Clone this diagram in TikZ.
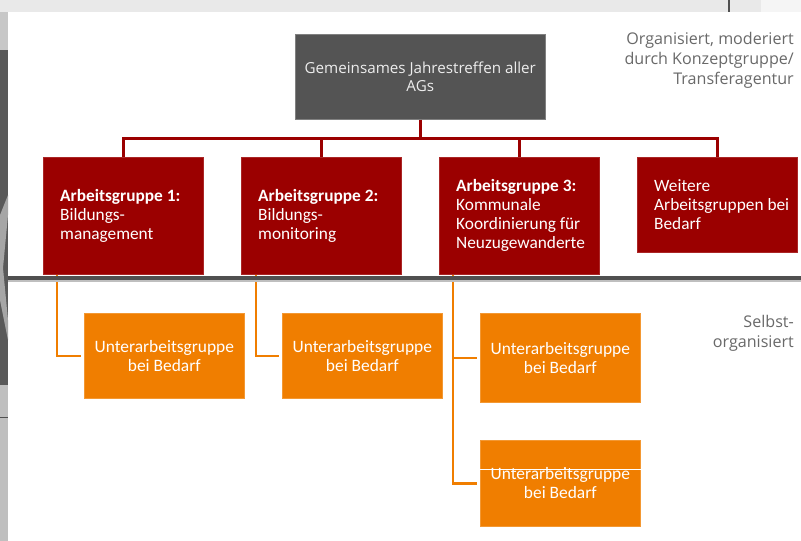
\documentclass[tikz,border=0pt]{standalone}
\usepackage{fontspec}
\setmainfont{Carlito}
\newfontfamily\opensans{Open Sans}
\usetikzlibrary{arrows.meta}
\definecolor{agred}{RGB}{155,0,0}
\definecolor{suborange}{RGB}{240,126,0}
\definecolor{boxgray}{RGB}{84,84,84}
\definecolor{notegray}{RGB}{105,105,105}
\definecolor{stripgray}{RGB}{233,233,233}
\definecolor{sepgray}{RGB}{80,80,80}
\begin{document}
\begin{tikzpicture}[x=1pt,y=-1pt,
  agbox/.style={fill=agred, draw=agred!85!white, line width=0.6pt, minimum width=160pt, minimum height=117pt, anchor=north west, inner sep=0pt},
  agtext/.style={anchor=west, align=left, inner sep=0pt, text=white, font=\fontsize{17.3}{19}\selectfont},
  subbox/.style={fill=suborange, draw=suborange!80!white, line width=0.6pt, minimum width=160pt, anchor=north west, inner sep=0pt, align=center, text=white, font=\fontsize{17.4}{19}\selectfont},
  topbox/.style={fill=boxgray, draw=gray, line width=0.6pt, minimum width=250pt, minimum height=85pt, anchor=north west, inner sep=0pt, align=center, text=white!93!black, font=\opensans\fontsize{15.2}{18}\selectfont},
  notetext/.style={anchor=north east, align=right, inner sep=0pt, text=notegray, font=\opensans\fontsize{16.1}{20}\selectfont},
  redline/.style={draw=agred, line width=3pt},
  orangeline/.style={draw=suborange, line width=2.4pt, shorten >=3pt}
]
\useasboundingbox (0,0) rectangle (801,541);
% background
\fill[white] (0,0) rectangle (801,541);
\fill[stripgray] (0,0) rectangle (761,12);
\fill[white!96!black] (761,0) rectangle (801,12);
\draw[sepgray, line width=1.5pt] (729,0) -- (729,12);
\fill[white!78!black] (0,12) rectangle (8,50);
\fill[white!35!black] (0,50) rectangle (8,385);
\fill[white!65!black] (0,215) -- (8,195) -- (8,215) -- (3,268) -- (8,320) -- (8,340) -- (0,300) -- cycle;
\fill[white!75!black] (0,385) rectangle (8,541);
\draw[sepgray, line width=1pt] (0,417) -- (8,417);

% top box
\node[topbox] (top) at (295,34) {Gemeinsames Jahrestreffen aller\\AGs};

% working groups
\node[agbox] (ag1) at (43,157) {};
\node[agbox] (ag2) at (241,157) {};
\node[agbox] (ag3) at (439,157) {};
\node[agbox, minimum height=95pt] (ag4) at (637,157) {};
\node[agtext] (t1) at ([xshift=17pt]ag1.west) {\textbf{Arbeitsgruppe 1:}\\Bildungs-\\management};
\node[agtext] (t2) at ([xshift=17pt]ag2.west) {\textbf{Arbeitsgruppe 2:}\\Bildungs-\\monitoring};
\node[agtext] (t3) at ([xshift=17pt]ag3.west) {\textbf{Arbeitsgruppe 3:}\\Kommunale\\Koordinierung für\\Neuzugewanderte};
\node[agtext] (t4) at ([xshift=17pt]ag4.west) {Weitere\\Arbeitsgruppen bei\\Bedarf};

% red connectors
\coordinate (bus) at (420,138.5);
\draw[redline] (top.south) -- (top.south |- bus);
\draw[redline] (ag1.north) -- (ag1.north |- bus) -- (ag4.north |- bus) -- (ag4.north);
\draw[redline] (ag2.north) -- (ag2.north |- bus);
\draw[redline] (ag3.north) -- (ag3.north |- bus);

% sub groups
\node[subbox, minimum height=85pt] (s1) at (84,313) {Unterarbeitsgruppe\\bei Bedarf};
\node[subbox, minimum height=85pt] (s2) at (282,313) {Unterarbeitsgruppe\\bei Bedarf};
\node[subbox, minimum height=89pt] (s3) at (480,313) {Unterarbeitsgruppe\\bei Bedarf};
\node[subbox, minimum height=86pt] (s4) at (480,440) {Unterarbeitsgruppe\\bei Bedarf};
\draw[white, line width=0.8pt] ([yshift=-29pt]s4.north west) -- ([yshift=-29pt]s4.north east);

% orange connectors
\draw[orangeline] ([xshift=14pt]ag1.south west) |- (s1.west);
\draw[orangeline] ([xshift=15pt]ag2.south west) |- (s2.west);
\draw[orangeline] ([xshift=14pt]ag3.south west) |- (s3.west);
\draw[orangeline] ([xshift=14pt]ag3.south west) |- (s4.west);

% separator
\fill[white!75!black] (8,279.5) rectangle (801,281.5);
\fill[sepgray] (8,276) rectangle (801,279.5);

% notes
\node[notetext] (n1) at (794,32) {Organisiert, moderiert\\durch Konzeptgruppe/\\Transferagentur};
\node[notetext] (n2) at (794,315) {Selbst-\\organisiert};
\end{tikzpicture}
\end{document}
